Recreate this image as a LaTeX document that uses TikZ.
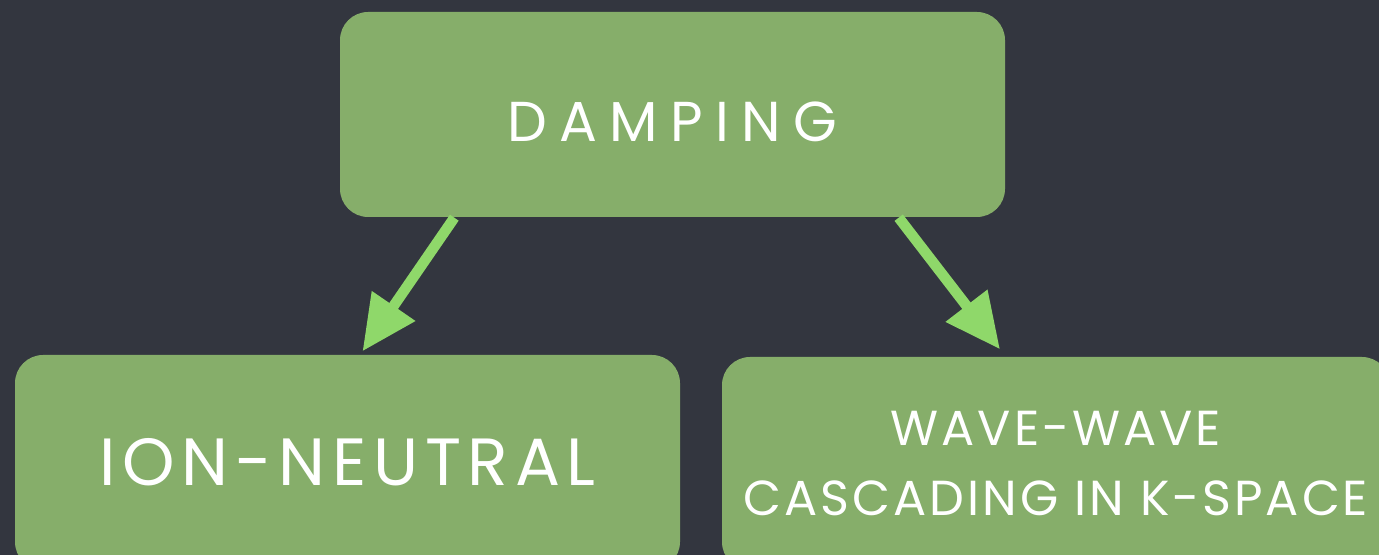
\documentclass[tikz,border=0pt]{standalone}
\usepackage{fontspec}
\setmainfont{Poppins}
\newfontfamily\widechalk[LetterSpace=22]{Poppins}
\newfontfamily\midchalk[LetterSpace=10]{Poppins}
\newfontfamily\smallchalk[LetterSpace=6]{Poppins}
\usetikzlibrary{arrows.meta}
\definecolor{slate}{HTML}{33363F}
\definecolor{moss}{HTML}{86AE6A}
\definecolor{chalkgreen}{HTML}{8FD86A}
\tikzset{
  card/.style={draw=none,fill=moss,rounded corners=8pt,text=white,align=center,inner sep=0pt},
  chalk/.style={-{Triangle[length=5.5mm,width=5mm]},draw=chalkgreen,line width=3pt}
}
\begin{document}
\begin{tikzpicture}
\fill[slate] (0,0) rectangle (13.79,5.55);
\useasboundingbox (0,0) rectangle (13.79,5.55);
% Top card and the two kinds of damping below it.
\node[card,minimum width=6.65cm,minimum height=2.05cm] (damping) at (6.725,4.405) {};
\node[text=white,font=\widechalk\fontsize{16}{19}\selectfont] (dampinglabel) at ([yshift=-.07cm]damping.center) {DAMPING};
\node[card,minimum width=6.65cm,minimum height=2.15cm,font=\midchalk\fontsize{19}{22}\selectfont] (ionneutral) at (3.475,0.925) {ION-NEUTRAL};
\node[card,minimum width=6.68cm,minimum height=2.13cm,font=\smallchalk\fontsize{14}{20}\selectfont] (wavewave) at (10.56,0.915) {WAVE-WAVE\\CASCADING IN K-SPACE};
% Chalk arrows from the top card down to each card.
\draw[chalk] ([xshift=1.15cm]damping.south west) -- ([xshift=.15cm,yshift=.03cm]ionneutral.north);
\draw[chalk] ([xshift=-1.07cm]damping.south east) -- ([xshift=-.56cm,yshift=.07cm]wavewave.north);
\end{tikzpicture}
\end{document}
